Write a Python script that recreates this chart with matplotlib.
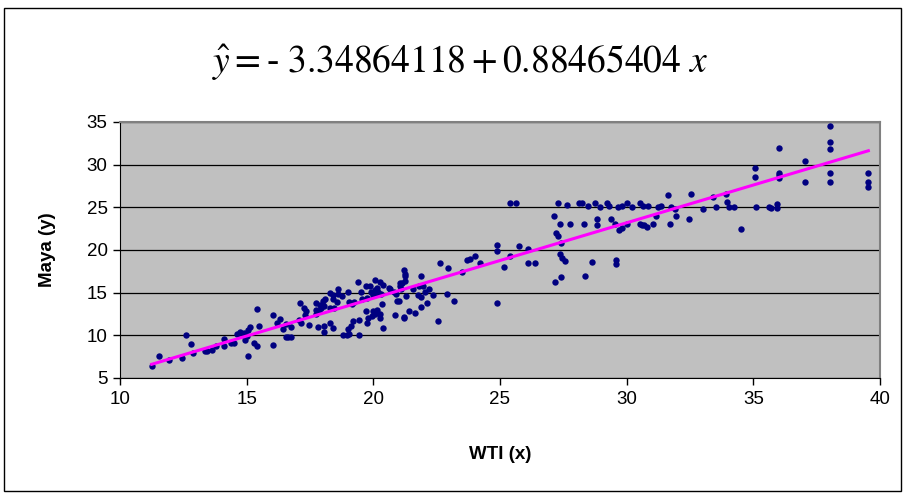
import matplotlib
matplotlib.use("Agg")
import matplotlib.pyplot as plt
from matplotlib.patches import Rectangle
import numpy as np

plt.rcParams['font.family'] = ['Liberation Sans', 'DejaVu Sans']
plt.rcParams['mathtext.fontset'] = 'stix'

# monthly prices: WTI (x) and Maya (y)
wti = [
    11.25, 11.55, 11.95, 12.45, 12.6, 12.8, 12.9, 13.35, 13.45, 13.65, 13.8, 14.1, 14.1,
    14.4, 14.5, 14.6, 14.75, 14.85, 14.9, 15.0, 14.95, 15.05, 15.05, 15.15, 15.3, 15.4,
    15.4, 15.5, 16.05, 16.05, 16.2, 16.3, 16.45, 16.55, 16.55, 16.65, 16.75, 16.75,
    17.05, 17.15, 17.45, 17.1, 17.25, 17.35, 17.3, 17.75, 17.75, 17.75, 17.8, 17.9,
    17.95, 18.0, 18.05, 18.1, 17.85, 18.05, 18.05, 18.3, 18.4, 18.3, 18.4, 18.4, 18.6,
    18.6, 18.55, 18.75, 18.3, 18.45, 18.8, 18.95,
    19.05, 19.45, 19.0, 19.1, 19.2, 19.0, 19.05, 19.15, 19.25, 19.4, 19.5, 19.45, 19.7,
    19.7, 19.85, 20.05, 19.75, 19.55, 19.75, 19.95, 20.0, 20.15, 20.25, 20.25, 20.35,
    20.4, 19.9, 20.05, 20.15, 20.2, 20.3, 20.0, 20.1, 20.25, 20.4, 19.8, 20.05, 20.65,
    20.8, 20.9, 20.95, 20.85, 20.6,
    21.2, 21.05, 21.15, 21.25, 21.2, 21.25, 21.3, 21.1, 21.25, 21.05, 21.0, 21.2, 21.4,
    21.65, 21.9, 22.1, 21.75, 21.9, 22.05, 21.8, 21.55, 21.95, 21.9, 22.2, 22.35, 22.55,
    22.65, 22.9, 22.95,
    23.2, 23.5, 23.7, 23.8, 24.0, 24.2, 24.9, 24.87, 24.9, 25.15, 25.4, 25.75, 26.1,
    26.1, 26.4, 25.4, 25.65,
    27.15, 27.2, 27.27, 27.4, 27.37, 27.44, 27.58, 27.17, 27.4, 27.27, 27.35, 27.63,
    27.77, 28.12, 28.25, 28.3, 28.36, 28.49, 28.62, 28.75, 28.82, 28.82, 28.95, 29.24,
    29.32, 29.38, 29.54, 29.58, 29.58, 29.67, 29.71, 29.81, 29.8, 30.0, 30.0, 30.2,
    30.53, 30.6, 30.66, 30.8, 30.86, 30.53, 30.7,
    31.05, 31.14, 31.23, 31.37, 31.63, 31.7, 31.76, 31.9, 31.94, 32.47, 32.54, 33.03,
    33.4, 33.53, 33.93, 33.97, 34.03, 34.24, 34.5, 35.07, 35.07, 35.1, 35.63, 36.03,
    36.03, 36.03, 36.03, 35.69, 35.95, 35.95, 37.02, 37.02, 38.03, 38.03, 38.03, 38.03,
    38.03, 39.54, 39.54, 39.54,
]
maya = [
    6.35, 7.6, 7.1, 7.4, 10.0, 8.95, 7.9, 8.2, 8.2, 8.3, 8.7, 9.6, 8.8,
    9.15, 9.15, 10.1, 10.4, 10.0, 10.3, 9.9, 9.5, 10.6, 7.6, 11.0, 9.1, 13.05,
    8.75, 11.1, 12.4, 8.85, 11.4, 11.9, 10.8, 11.3, 9.75, 9.75, 9.85, 11.0,
    11.8, 11.4, 11.2, 13.8, 13.25, 12.9, 12.4, 13.75, 13.0, 12.5, 11.0, 13.6,
    13.2, 14.0, 13.4, 14.3, 12.8, 11.05, 10.4, 11.4, 10.9, 15.0, 14.7, 14.2, 15.4,
    14.9, 13.9, 14.6, 13.2, 13.2, 10.05, 10.05,
    10.15, 10.05, 10.8, 11.1, 11.7, 15.1, 13.9, 13.7, 13.9, 16.3, 15.1, 11.8, 12.9,
    15.8, 15.8, 16.5, 14.4, 14.3, 11.5, 12.3, 12.8, 13.0, 12.5, 12.0, 13.7,
    10.9, 15.1, 15.3, 15.6, 15.1, 14.9, 14.7, 14.8, 16.3, 15.9, 12.0, 12.5, 15.4,
    15.1, 14.8, 14.0, 12.4, 15.5,
    12.2, 16.1, 16.1, 16.4, 17.6, 17.2, 14.6, 15.4, 16.9, 15.8, 14.0, 12.0, 12.85,
    12.65, 13.3, 13.8, 14.7, 14.5, 15.05, 15.8, 15.4, 15.8, 16.9, 15.45, 14.7, 11.7,
    18.45, 14.9, 17.85,
    14.05, 17.45, 18.8, 19.0, 19.3, 18.45, 20.6, 19.9, 13.75, 18.05, 19.3, 20.45, 20.1,
    18.45, 18.45, 25.5, 25.5,
    24.0, 21.95, 21.65, 20.85, 19.55, 19.1, 18.75, 16.25, 16.8, 25.5, 23.1, 25.3,
    23.05, 25.5, 25.5, 23.1, 17.0, 25.1, 18.6, 25.55, 23.6, 22.93, 25.0, 25.5,
    25.15, 23.6, 23.1, 18.8, 18.35, 25.0, 22.4, 25.1, 22.55, 25.5, 23.05, 25.0,
    25.5, 22.93, 25.1, 22.73, 25.2, 23.1, 22.95,
    23.05, 24.0, 25.0, 25.15, 26.45, 23.05, 25.0, 24.75, 23.95, 23.6, 26.55, 24.75,
    26.25, 25.0, 26.55, 25.65, 25.0, 25.0, 22.5, 28.5, 29.65, 25.0, 25.0, 31.95,
    29.05, 28.8, 28.4, 24.95, 25.4, 24.9, 30.4, 28.0, 34.5, 32.7, 31.8, 29.0,
    28.0, 29.0, 28.0, 27.35,
]

b0 = -3.34864118
b1 = 0.88465404

x = np.array(wti)
y = np.array(maya)

fig = plt.figure(figsize=(9.05, 4.95), dpi=100)
fig.patch.set_facecolor('white')
ax = fig.add_axes([120 / 905, 1 - 378 / 495, 760 / 905, 256 / 495])
ax.set_facecolor('#C0C0C0')

ax.plot(x, y, 'o', color='#000080', ms=4.6, mew=0, zorder=3)

xl = np.array([x.min(), x.max()])
ax.plot(xl, b0 + b1 * xl, color='#FF00FF', lw=2.2, zorder=4)

ax.set_xlim(10, 40)
ax.set_ylim(5, 35)
ax.set_xticks(np.arange(10, 41, 5))
ax.set_yticks(np.arange(5, 36, 5))
ax.yaxis.grid(True, color='black', lw=0.9)
ax.set_axisbelow(True)
ax.tick_params(direction='out', length=5, width=1, labelsize=13.5, pad=4)

for side in ['left', 'bottom']:
    ax.spines[side].set_color('black')
for side in ['top', 'right']:
    ax.spines[side].set_color('#808080')
    ax.spines[side].set_linewidth(1.5)

ax.set_xlabel('WTI (x)', fontsize=13.5, fontweight='bold', labelpad=28)
ax.set_ylabel('Maya (y)', fontsize=13.5, fontweight='bold', labelpad=22)

# regression equation, hyphen kept short as in the original typesetting
fig.text(460 / 905, 1 - 63 / 495,
         '$\\hat{y} = \u2010\\ 3.34864118 + 0.88465404\\ x$',
         fontsize=27, ha='center', va='center')

# outer chart frame
fig.patches.append(Rectangle((4 / 905, 4 / 495), 897 / 905, 483 / 495,
                             transform=fig.transFigure, fill=False,
                             edgecolor='black', lw=1))

fig.savefig('out.png', dpi=100)
